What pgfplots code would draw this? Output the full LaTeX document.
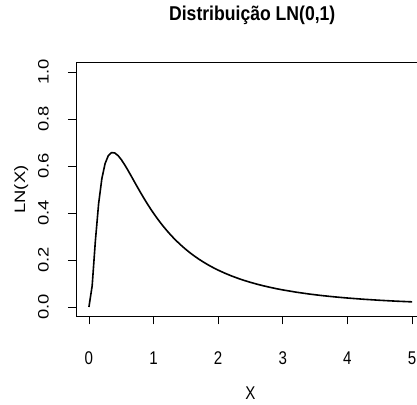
\documentclass[border=0pt]{standalone}
\usepackage{graphicx}
\usepackage{pgfplots}
\pgfplotsset{compat=1.18}
\usepackage{fontspec}
\setmainfont{Liberation Sans}
\newfontfamily\narrowfont{Liberation Sans}[FakeStretch=0.82]
\newfontfamily\titlefont{Liberation Sans}[FakeStretch=0.88]
\newcommand{\vs}[1]{\scalebox{1}[0.82]{#1}}
\begin{document}
\begin{tikzpicture}
\begin{axis}[
 at={(76bp,-316.4bp)}, anchor=south west,
 width=349bp, height=253.8bp, scale only axis,
 xmin=-0.2, xmax=5.2, ymin=-0.04, ymax=1.04,
 xtick={0,1,2,3,4,5}, ytick={0,0.2,0.4,0.6,0.8,1.0},
 xticklabels={0,1,2,3,4,5},
 yticklabels={\vs{0.0},\vs{0.2},\vs{0.4},\vs{0.6},\vs{0.8},\vs{1.0}},
 xtick pos=bottom, ytick pos=left, tick align=outside,
 major tick length=8bp,
 every tick/.style={black, line width=0.75bp},
 axis line style={line width=0.75bp},
 /pgf/number format/assume math mode=true,
 xticklabel style={font=\narrowfont\fontsize{18.4bp}{20bp}\selectfont, inner sep=0pt, anchor=north},
 yticklabel style={font=\fontsize{18.4bp}{20bp}\selectfont, inner sep=0pt, rotate=90, anchor=base},
 xticklabel shift=27bp,
 yticklabel shift=19.3bp,
 xlabel={X}, ylabel={\vs{LN(X)}},
 xlabel style={font=\narrowfont\fontsize{18.4bp}{20bp}\selectfont, inner sep=0pt, at={(axis description cs:0.5,-0.329)}, anchor=base},
 ylabel style={font=\fontsize{18.4bp}{20bp}\selectfont, inner sep=0pt, at={(axis description cs:-0.146,0.5)}, anchor=base},
 title={Distribuição LN(0,1)},
 title style={font=\titlefont\bfseries\fontsize{20bp}{22bp}\selectfont, at={(axis description cs:0.505,1.1415)}, anchor=base, inner sep=0pt},
]
\addplot[black, line width=1.6bp] coordinates {
(0,0) (0.05,0.0898) (0.10,0.2818) (0.15,0.4398) (0.20,0.5462) (0.25,0.6104)
(0.30,0.6442) (0.35,0.6570) (0.40,0.6555) (0.45,0.6445) (0.50,0.6275)
(0.55,0.6067) (0.60,0.5836) (0.65,0.5594) (0.70,0.5348) (0.75,0.5104)
(0.80,0.4864) (0.85,0.4632) (0.90,0.4408) (0.95,0.4194) (1.00,0.3989)
(1.05,0.3795) (1.10,0.3610) (1.15,0.3435) (1.20,0.3270) (1.25,0.3113)
(1.30,0.2965) (1.35,0.2825) (1.40,0.2693) (1.45,0.2568) (1.50,0.2450)
(1.55,0.2338) (1.60,0.2233) (1.65,0.2133) (1.70,0.2039) (1.75,0.1949)
(1.80,0.1865) (1.85,0.1785) (1.90,0.1709) (1.95,0.1637) (2.00,0.1569)
(2.1,0.1443) (2.2,0.1329) (2.3,0.1226) (2.4,0.1133) (2.5,0.1049)
(2.6,0.0972) (2.7,0.0902) (2.8,0.0839) (2.9,0.0780) (3.0,0.0727)
(3.2,0.0634) (3.4,0.0555) (3.6,0.0488) (3.8,0.0431) (4.0,0.0382)
(4.25,0.0330) (4.5,0.0286) (4.75,0.0249) (5.0,0.0219)
};
\end{axis}
\pgfresetboundingbox
\useasboundingbox (0,0) rectangle (417bp,-405bp);
\end{tikzpicture}
\end{document}
